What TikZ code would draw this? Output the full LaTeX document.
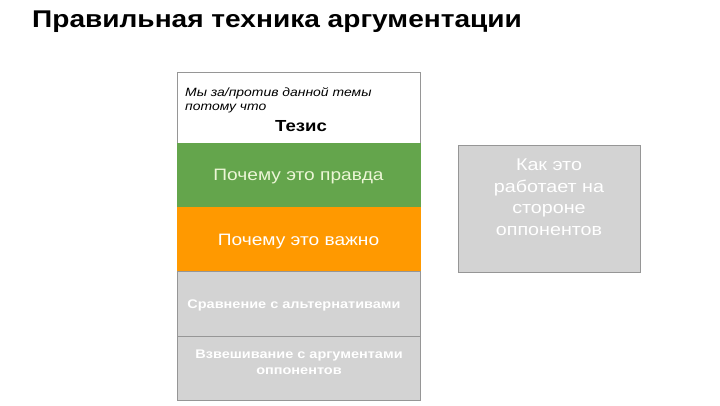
\documentclass[tikz,border=0pt]{standalone}
\usepackage{fontspec}
\setmainfont[FakeStretch=1.16]{Liberation Sans}
\definecolor{truegreen}{RGB}{100,165,76}
\definecolor{whyorange}{RGB}{255,153,0}
\definecolor{boxgray}{RGB}{211,211,211}
\definecolor{linegray}{RGB}{150,150,150}
\definecolor{cream}{RGB}{236,246,214}
\tikzset{
  block/.style={draw=linegray, line width=0.8pt, minimum width=243pt, inner sep=0pt, align=center},
  graytext/.style={text=white, align=center, font=\bfseries\fontsize{12.5}{16}\selectfont}
}
\begin{document}
\begin{tikzpicture}[x=1pt, y=-1pt]
    \useasboundingbox[fill=white] (0, 0) rectangle (720, 405);
    \node[anchor=base west, inner sep=0pt, font=\bfseries\fontsize{24.2}{28}\selectfont] (title) at (32, 27) {Правильная техника аргументации};
    \node[block, fill=white, minimum height=71pt] (thesis) at (298.5, 107.5) {};
    \node[anchor=base west, inner sep=0pt, align=left, font=\itshape\fontsize{12}{14}\selectfont] (intro) at (185, 110) {Мы за/против данной темы\\потому что};
    \node[anchor=base, inner sep=0pt, font=\bfseries\fontsize{16}{18}\selectfont] (tezis) at (301, 131) {Тезис};
    \node[block, draw=truegreen, fill=truegreen, minimum height=64pt, text=cream, text depth=0pt, font=\fontsize{16.5}{19}\selectfont] (true) at (298.5, 175) {Почему это правда};
    \node[block, draw=whyorange, fill=whyorange, minimum height=64pt, text=white, text depth=0pt, font=\fontsize{16.5}{19}\selectfont] (important) at (298.5, 239.5) {Почему это важно};
    \node[block, fill=boxgray, minimum height=65pt] (compare) at (298.5, 303.5) {};
    \node[graytext] (comparetext) at (294, 305) {Сравнение с альтернативами};
    \node[block, fill=boxgray, minimum height=64pt] (weigh) at (298.5, 368) {};
    \node[graytext] (weightext) at (299, 362) {Взвешивание с аргументами\\оппонентов};
    \node[draw=linegray, line width=0.8pt, fill=boxgray, minimum width=182pt, minimum height=127pt, inner sep=0pt] (opponents) at (549, 208.5) {};
    \node[align=center, text=white, font=\fontsize{17}{21.5}\selectfont] (opponentstext) at (549, 197) {Как это\\работает на\\стороне\\оппонентов};
\end{tikzpicture}
\end{document}
